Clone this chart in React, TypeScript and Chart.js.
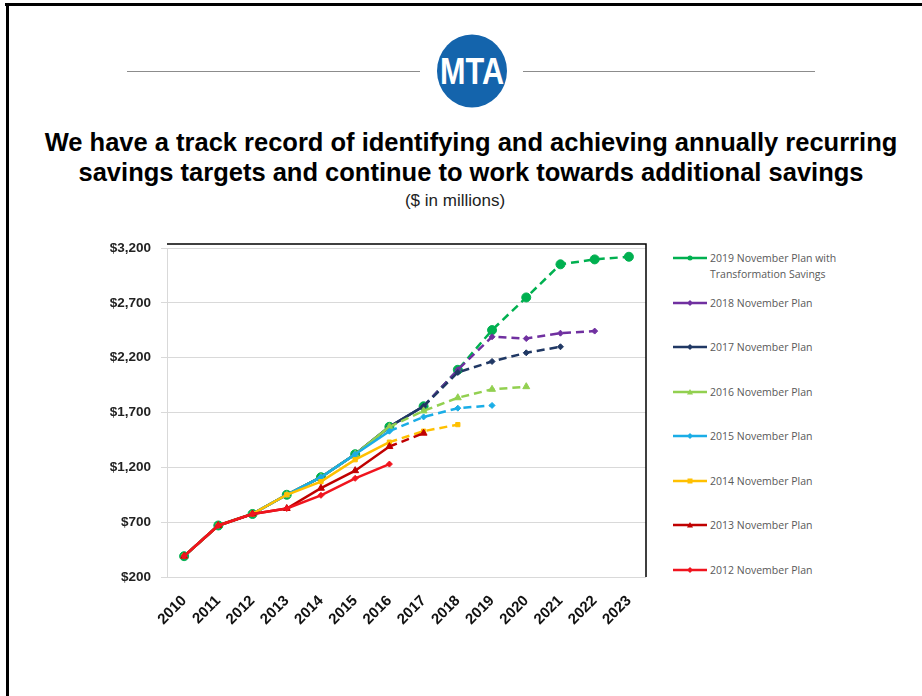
import React, { useEffect, useRef } from "react";
import { Chart, registerables } from "chart.js";
Chart.register(...registerables);

const years = ["2010", "2011", "2012", "2013", "2014", "2015", "2016", "2017", "2018", "2019", "2020", "2021", "2022", "2023"];

const seriesNames = [
  "2019 November Plan with Transformation Savings",
  "2018 November Plan",
  "2017 November Plan",
  "2016 November Plan",
  "2015 November Plan",
  "2014 November Plan",
  "2013 November Plan",
  "2012 November Plan",
];

const plan2019 = [390, 670, 775, 950, 1110, 1320, 1570, 1757, 2090, 2452, 2750, 3052, 3097, 3121];
const plan2018 = [390, 670, 775, 950, 1110, 1320, 1570, 1757, 2090, 2391, 2375, 2424, 2443, null];
const plan2017 = [390, 670, 775, 950, 1110, 1320, 1570, 1757, 2066, 2166, 2245, 2300, null, null];
const plan2016 = [390, 670, 775, 950, 1110, 1320, 1570, 1715, 1835, 1912, 1936, null, null, null];
const plan2015 = [390, 670, 775, 950, 1110, 1320, 1530, 1660, 1740, 1765, null, null, null, null];
const plan2014 = [390, 670, 775, 950, 1070, 1270, 1430, 1530, 1590, null, null, null, null, null];
const plan2013 = [390, 670, 775, 825, 1010, 1170, 1390, 1512, null, null, null, null, null, null];
const plan2012 = [390, 670, 775, 825, 945, 1100, 1230, null, null, null, null, null, null, null];

const seriesValues = [plan2019, plan2018, plan2017, plan2016, plan2015, plan2014, plan2013, plan2012];
// first year reached by a dashed (forecast) segment, per plan
const dashFromYear = ["2018", "2018", "2018", "2017", "2017", "2017", "2017", null];

const yTicksMin = 200;
const yTicksMax = 3200;
const yTicksStep = 500;

const colors = ["#00B050", "#7030A0", "#203864", "#92D050", "#1AADE6", "#FFC000", "#C00000", "#F0141E"];
const pointStyles = ["circle", "rectRot", "rectRot", "triangle", "rectRot", "rect", "triangle", "rectRot"];
const pointRadii = [4.5, 3, 3, 4, 3, 3, 4, 3];

const legendTop = [258, 303, 347, 392, 436, 481, 525, 570];

function LegendMarker({ color, style }: { color: string; style: string }) {
  const cx = 17, cy = 6;
  let shape: any = null;
  if (style === "circle") shape = <circle cx={cx} cy={cy} r={2.5} fill={color} />;
  else if (style === "triangle") shape = <polygon points={`${cx},${cy - 3} ${cx + 3},${cy + 2.5} ${cx - 3},${cy + 2.5}`} fill={color} />;
  else if (style === "rect") shape = <rect x={cx - 2.5} y={cy - 2.5} width={5} height={5} fill={color} />;
  else shape = <polygon points={`${cx},${cy - 3} ${cx + 3},${cy} ${cx},${cy + 3} ${cx - 3},${cy}`} fill={color} />;
  return (
    <svg width={34} height={12} style={{ position: "absolute", left: 0, top: 0 }}>
      <line x1={0} y1={cy} x2={34} y2={cy} stroke={color} strokeWidth={2.5} />
      {shape}
    </svg>
  );
}

export default function App() {
  const canvasRef = useRef<HTMLCanvasElement | null>(null);

  useEffect(() => {
    const canvas = canvasRef.current;
    if (!canvas) return;

    const framePlugin = {
      id: "frameLines",
      afterDraw(chart: any) {
        const { ctx, chartArea: a } = chart;
        ctx.save();
        ctx.strokeStyle = "#000";
        ctx.lineWidth = 1.5;
        ctx.beginPath();
        ctx.moveTo(a.left, a.top - 4);
        ctx.lineTo(a.right, a.top - 4);
        ctx.lineTo(a.right, a.bottom);
        ctx.stroke();
        ctx.restore();
      },
    };

    // reversed so that the 2012 plan is drawn on top
    const order = [7, 6, 5, 4, 3, 2, 1, 0];
    const datasets = order.map((i) => {
      const dashIdx = dashFromYear[i] ? years.indexOf(dashFromYear[i] as string) : Infinity;
      return {
        label: seriesNames[i],
        data: seriesValues[i],
        borderColor: colors[i],
        backgroundColor: colors[i],
        borderWidth: 2.5,
        pointStyle: pointStyles[i],
        pointRadius: pointRadii[i],
        pointBorderWidth: 1,
        pointBorderColor: colors[i],
        pointBackgroundColor: colors[i],
        tension: 0,
        spanGaps: false,
        segment: {
          borderDash: (ctx: any) => (ctx.p1DataIndex >= dashIdx ? [8, 5] : undefined),
        },
      };
    });

    const chart = new Chart(canvas, {
      type: "line",
      data: { labels: years, datasets: datasets as any },
      options: {
        animation: false,
        responsive: false,
        devicePixelRatio: 1,
        layout: { padding: { top: 17, right: 19, left: 0, bottom: 0 } },
        plugins: { legend: { display: false }, tooltip: { enabled: false }, title: { display: false } },
        scales: {
          x: {
            type: "category",
            offset: true,
            grid: { display: false },
            border: { display: false },
            afterFit: (s: any) => { s.height = 58; },
            ticks: {
              maxRotation: 45,
              minRotation: 45,
              autoSkip: false,
              padding: 7,
              color: "#111",
              font: { family: "Liberation Sans, Arial, sans-serif", size: 15, weight: "bold" },
            },
          },
          y: {
            min: yTicksMin,
            max: yTicksMax,
            afterFit: (s: any) => { s.width = 77; },
            grid: { color: "#D9D9D9", lineWidth: 1, drawTicks: true, tickLength: 6 },
            border: { display: true, color: "#D9D9D9" },
            ticks: {
              stepSize: yTicksStep,
              padding: 10,
              color: "#222",
              font: { family: "Liberation Sans, Arial, sans-serif", size: 13.5, weight: "bold" },
              callback: (v: any) => "$" + Number(v).toLocaleString("en-US"),
            },
          },
        },
      },
      plugins: [framePlugin],
    });
    return () => chart.destroy();
  }, []);

  return (
    <div style={{ position: "absolute", left: 0, top: 0, width: 922, height: 696, background: "#fff", overflow: "hidden", fontFamily: "Liberation Sans, Arial, sans-serif" }}>
      {/* slide frame */}
      <div style={{ position: "absolute", left: 5, top: 3, width: 930, height: 3, background: "#000" }} />
      <div style={{ position: "absolute", left: 6, top: 3, width: 3, height: 700, background: "#000" }} />

      {/* header lines and logo */}
      <div style={{ position: "absolute", left: 127, top: 71, width: 293, height: 1, background: "#8c8c8c" }} />
      <div style={{ position: "absolute", left: 523, top: 71, width: 292, height: 1, background: "#8c8c8c" }} />
      <svg width={80} height={80} style={{ position: "absolute", left: 432, top: 31 }}>
        <ellipse cx={40} cy={40} rx={35} ry={36.5} fill="#1464AC" />
        <text x={40} y={53} textAnchor="middle" fill="#fff" fontFamily="Liberation Sans Narrow, Liberation Sans, Arial" fontWeight="bold" fontSize={36} textLength={64} lengthAdjust="spacingAndGlyphs">MTA</text>
      </svg>

      {/* title */}
      <div style={{ position: "absolute", left: 0, width: 942, top: 127, textAlign: "center", fontWeight: "bold", fontSize: 25.5, lineHeight: "30px", color: "#000", whiteSpace: "nowrap" }}>
        We have a track record of identifying and achieving annually recurring<br />
        savings targets and continue to work towards additional savings
      </div>
      <div style={{ position: "absolute", left: 0, width: 910, top: 191, textAlign: "center", fontSize: 17, color: "#222" }}>($ in millions)</div>

      {/* chart */}
      <canvas ref={canvasRef} width={575} height={405} style={{ position: "absolute", left: 90, top: 230, width: 575, height: 405 }} />

      {/* legend */}
      {seriesNames.map((name, i) => (
        <div key={name} style={{ position: "absolute", left: 673, top: legendTop[i] - 6, width: 240 }}>
          <LegendMarker color={colors[i]} style={pointStyles[i]} />
          <div style={{ position: "absolute", left: 37, top: -2, width: 150, fontFamily: "Open Sans, sans-serif", fontSize: 10.5, lineHeight: "16px", color: "#595959" }}>{name}</div>
        </div>
      ))}
    </div>
  );
}
